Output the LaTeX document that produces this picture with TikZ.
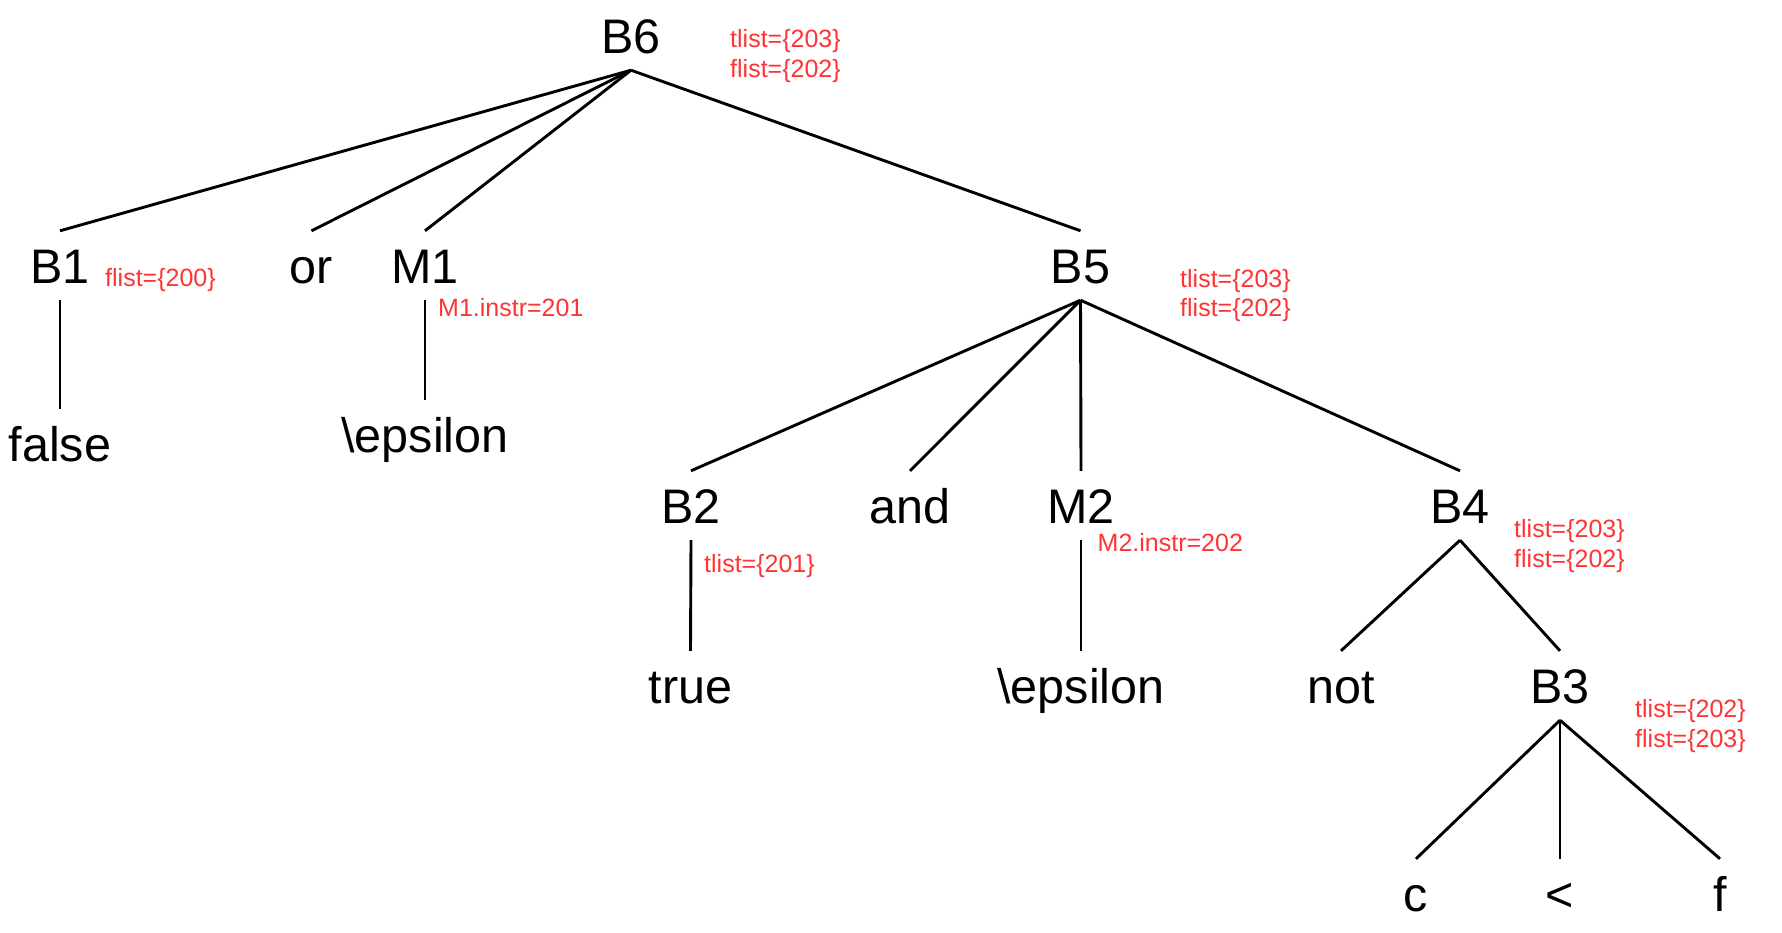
\documentclass[tikz,border=0pt]{standalone}
\usepackage{fontspec}
\setmainfont{Liberation Sans}
\definecolor{annred}{RGB}{255,51,51}
\begin{document}
\begin{tikzpicture}[x=1pt,y=-1pt,
  tn/.style={anchor=base, inner xsep=0pt, inner ysep=17pt, text height=35pt, text depth=0pt,
             font=\fontsize{48.5}{58}\selectfont},
  ann/.style={anchor=base west, inner sep=0pt, text=annred, align=left,
             font=\fontsize{25}{30}\selectfont},
  edge/.style={draw=black, line width=2.9pt}]
\useasboundingbox (0,0) rectangle (1782,932);
% tree nodes
\node[tn] (B6) at (631,53) {B6};
\node[tn] (B1) at (60,283) {B1};
\node[tn] (or) at (311.5,283) {or};
\node[tn] (M1) at (425,283) {M1};
\node[tn] (B5) at (1080.5,283) {B5};
\node[tn] (false) at (60,461.5) {false};
\node[tn] (eps1) at (425,452) {\textbackslash epsilon};
\node[tn] (B2) at (691,523) {B2};
\node[tn] (and) at (910,523) {and};
\node[tn] (M2) at (1081,523) {M2};
\node[tn] (B4) at (1460,523) {B4};
\node[tn] (true) at (690.5,703) {true};
\node[tn] (eps2) at (1081,703) {\textbackslash epsilon};
\node[tn] (not) at (1341,703) {not};
\node[tn] (B3) at (1560,703) {B3};
\node[tn] (c) at (1416,911) {c};
\node[tn] (lt) at (1560,911) {<};
\node[tn] (f) at (1720,911) {f};
% annotations
\node[ann] (aB6t) at (730,47) {tlist=\{203\}};
\node[ann] (aB6f) at (730,77) {flist=\{202\}};
\node[ann] (aB1) at (105,286) {flist=\{200\}};
\node[ann] (aM1) at (438,316) {M1.instr=201};
\node[ann] (aB5t) at (1180,287) {tlist=\{203\}};
\node[ann] (aB5f) at (1180,316) {flist=\{202\}};
\node[ann] (aB2) at (704,572) {tlist=\{201\}};
\node[ann] (aM2) at (1097.5,551) {M2.instr=202};
\node[ann] (aB4t) at (1514,537) {tlist=\{203\}};
\node[ann] (aB4f) at (1514,567) {flist=\{202\}};
\node[ann] (aB3t) at (1635,717) {tlist=\{202\}};
\node[ann] (aB3f) at (1635,747) {flist=\{203\}};
% edges
\draw[edge] (B6.south) -- (B1.north);
\draw[edge] (B6.south) -- (or.north);
\draw[edge] (B6.south) -- (M1.north);
\draw[edge] (B6.south) -- (B5.north);
\draw[edge] (B1.south) -- (false.north);
\draw[edge] (M1.south) -- (eps1.north);
\draw[edge] (B5.south) -- (B2.north);
\draw[edge] (B5.south) -- (and.north);
\draw[edge] (B5.south) -- (M2.north);
\draw[edge] (B5.south) -- (B4.north);
\draw[edge] (B2.south) -- (true.north);
\draw[edge] (M2.south) -- (eps2.north);
\draw[edge] (B4.south) -- (not.north);
\draw[edge] (B4.south) -- (B3.north);
\draw[edge] (B3.south) -- (c.north);
\draw[edge] (B3.south) -- (lt.north);
\draw[edge] (B3.south) -- (f.north);
\end{tikzpicture}
\end{document}
